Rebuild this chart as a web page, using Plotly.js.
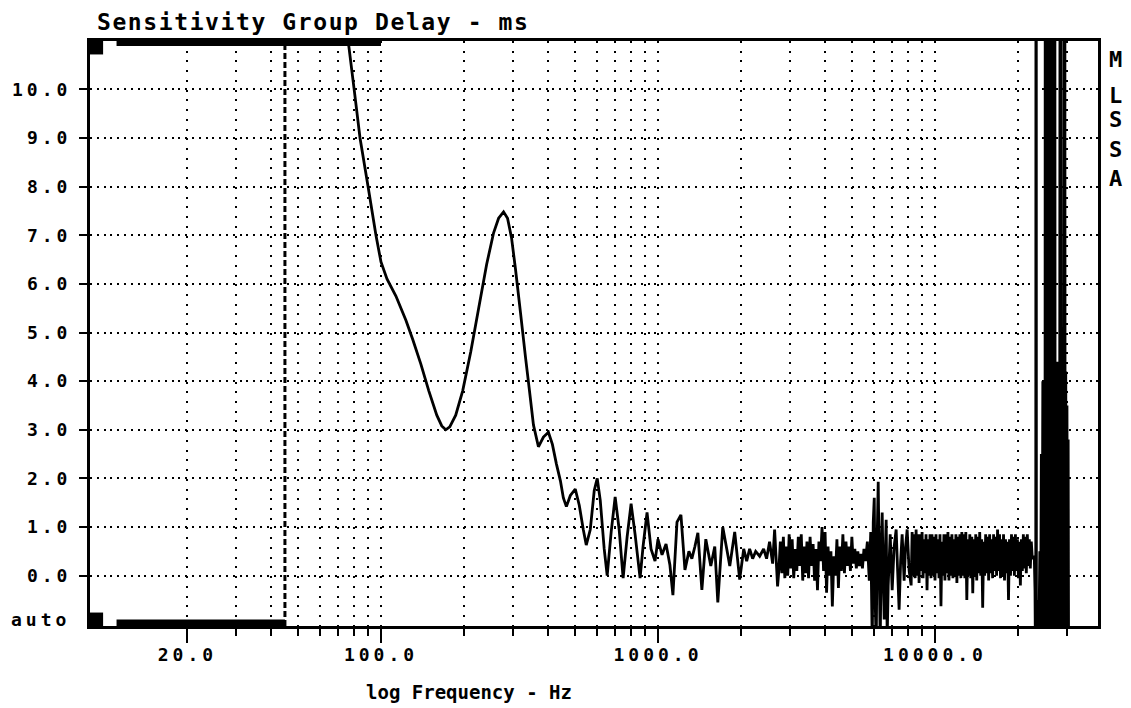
<!DOCTYPE html>
<html>
<head>
<meta charset="utf-8">
<script src="https://cdn.plot.ly/plotly-3.0.1.min.js"></script>
<style>
  html, body { margin: 0; padding: 0; background: #fff; }
  #chart { width: 1131px; height: 708px; }
  .ytick text, .xtick text { letter-spacing: 4px; }
  .gtitle { letter-spacing: 1.6px; }
  .annotation[data-index="0"] text { letter-spacing: 4px; }
</style>
</head>
<body>
<div id="chart"></div>
<script>
// Low-frequency part: steep fall, dip and the big group-delay peak (Hz, ms)
const smoothFreq = [72, 76.1, 80.0, 84.0, 89.8, 95.9, 100, 105.1, 113.2, 123.0, 130.3, 139.3, 148.8, 159.0,
  165.7, 171.3, 177.1, 186.1, 197.2, 210.8, 225.2, 240.6, 255.0, 265.8, 277.0, 286.3, 295.9, 305.9,
  319.0, 332.3, 343.6, 355.1];
const smoothDelay = [12.1, 11.0, 10.0, 9.0, 8.0, 7.0, 6.45, 6.1, 5.75, 5.25, 4.85, 4.35, 3.8, 3.3,
  3.08, 3.0, 3.06, 3.3, 3.8, 4.6, 5.5, 6.4, 7.05, 7.35, 7.48, 7.35, 6.95, 6.3,
  5.4, 4.5, 3.8, 3.1];

// Decaying ripples up to 1 kHz
const rippleFreq = [370.1, 385.8, 402.2, 415.7, 429.7, 444.3, 455.4, 466.9, 482.6, 502.8, 519.7, 537.3,
  550.8, 569.6, 588.6, 603.4, 618.8, 639.4, 655.5, 677.6, 700.4, 724.0, 748.3, 773.6, 799.6, 826.6,
  861.6, 883.2, 912.9, 943.7, 975.5];
const rippleDelay = [2.65, 2.85, 2.95, 2.7, 2.3, 1.95, 1.6, 1.42, 1.65, 1.78, 1.45, 0.95,
  0.63, 0.95, 1.75, 2.0, 1.55, 0.55, 0.0, 0.9, 1.62, 0.95, -0.05, 0.8, 1.48, 0.85,
  -0.05, 0.6, 1.3, 0.55, 0.3];

// 1 kHz .. 2.7 kHz
const noiseFreqA = [1000, 1034, 1069, 1104, 1132, 1171, 1210, 1251, 1293, 1325, 1359, 1393, 1440, 1488,
  1551, 1603, 1644, 1713, 1771, 1816, 1892, 1972, 2039, 2090, 2142, 2196, 2252, 2328, 2406, 2466,
  2528, 2593, 2636, 2702];
const noiseDelayA = [0.75, 0.43, 0.65, 0.22, -0.4, 1.1, 1.25, 0.12, 0.5, 0.35, 0.6, 0.88, -0.29, 0.75,
  0.2, 0.6, -0.55, 1.0, 0.55, 0.2, 0.9, -0.08, 0.55, 0.3, 0.55, 0.35, 0.5, 0.4, 0.55, 0.35,
  0.7, 0.25, 0.95, -0.22];

// 2.7 kHz .. 5.5 kHz
const noiseFreqB = [2730, 2765, 2800, 2835, 2870, 2905, 2940, 2975, 3010, 3050, 3090, 3130, 3170, 3210,
  3250, 3290, 3330, 3370, 3410, 3450, 3495, 3540, 3585, 3630, 3675, 3720, 3765, 3810, 3860, 3910,
  3960, 4010, 4060, 4110, 4160, 4210, 4260, 4315, 4370, 4425, 4480, 4535, 4590, 4650, 4710, 4770,
  4830, 4890, 4950, 5010, 5070, 5135, 5200, 5265, 5330, 5400, 5470, 5540];
const noiseDelayB = [0.1, 0.7, 0.05, 0.8, -0.05, 0.6, 0.0, 0.85, 0.15, 0.75, -0.05, 0.55, 0.1, 0.8,
  0.2, 0.85, -0.1, 0.6, 0.05, 0.7, -0.05, 0.8, 0.2, 0.65, -0.1, 0.55, -0.3, 0.7, 0.3, 1.0,
  0.1, 0.9, -0.35, 0.6, 0.0, 0.5, -0.63, 0.4, 0.0, 0.75, -0.25, 0.6, 0.1, 0.85, 0.05, 0.7,
  0.2, 0.6, 0.1, 0.8, 0.25, 0.55, 0.15, 0.5, 0.2, 0.45, 0.15, 0.55];

// Burst around 6-7 kHz
const burstFreq = [5610, 5700, 5790, 5860, 5935, 5985, 6035, 6085, 6135, 6185, 6237, 6290, 6341, 6394,
  6447, 6500, 6555, 6610, 6664, 6720, 6776, 6890, 7004, 7120, 7240, 7330, 7420, 7515, 7610, 7737,
  7830, 7934, 8066];
const burstDelay = [0.3, 0.7, -0.1, 0.9, -1.4, 1.1, 1.6, -0.6, -1.4, 0.8, 1.93, 0.2, -1.4, 0.5,
  1.3, 0.0, -0.9, 0.4, 1.15, -1.3, -0.2, 0.85, -0.3, 0.6, 0.95, 0.1, -0.7, 0.3, 0.85, -0.1,
  0.6, 0.95, 0.1];

// 8 kHz .. 22 kHz
const noiseFreqD = [8200, 8268, 8337, 8406, 8476, 8546, 8617, 8688, 8760, 8833,
  8906, 8980, 9054, 9129, 9205, 9281, 9358, 9436, 9514, 9593,
  9672, 9752, 9833, 9916, 10000, 10083, 10167, 10251, 10336, 10422,
  10508, 10595, 10683, 10771, 10860, 10950, 11040, 11135, 11230, 11322,
  11415, 11510, 11605, 11702, 11800, 11897, 11995, 12095, 12195, 12296,
  12397, 12500, 12604, 12708, 12813, 12919, 13026, 13134, 13243, 13353,
  13463, 13575, 13687, 13800, 13914, 14029, 14145, 14262, 14380, 14500,
  14620, 14741, 14863, 14986, 15110, 15235, 15361, 15489, 15617, 15747,
  15877, 16009, 16141, 16275, 16410, 16546, 16683, 16821, 16960, 17100,
  17240, 17385, 17530, 17675, 17820, 17970, 18120, 18270, 18420, 18575,
  18730, 18885, 19040, 19195, 19350, 19515, 19680, 19840, 20000, 20165,
  20330, 20500, 20670, 20840, 21010, 21185, 21360, 21540, 21720, 21900,
  22080, 22265, 22450];
const noiseDelayD = [-0.2, 0.9, 0.0, 0.85, -0.05, 0.95, 0.0, 0.85, -0.15, 0.85,
  0.1, 0.9, -0.05, 0.75, 0.05, 0.85, -0.3, 0.75, 0.0, 0.85,
  -0.05, 0.85, 0.0, 0.8, -0.1, 0.85, 0.05, 0.75, -0.05, 0.85,
  -0.63, 0.7, 0.0, 0.85, -0.1, 0.85, 0.05, 0.9, -0.1, 0.8,
  0.0, 0.85, -0.05, 0.75, 0.0, 0.85, -0.15, 0.8, 0.0, 0.85,
  -0.05, 0.9, 0.0, 0.85, -0.05, 0.9, -0.5, 0.75, 0.0, 0.85,
  -0.05, 0.8, -0.36, 0.75, 0.0, 0.85, -0.1, 0.8, 0.05, 0.9,
  0.0, 0.75, -0.66, 0.7, 0.0, 0.85, 0.05, 0.8, -0.1, 0.85,
  0.05, 0.75, -0.05, 0.85, 0.1, 0.8, 0.0, 0.95, 0.1, 0.85,
  -0.05, 0.75, 0.0, 0.85, -0.1, 0.75, 0.05, 0.7, -0.5, 0.75,
  0.0, 0.85, 0.1, 0.8, 0.0, 0.85, 0.1, 0.75, -0.05, 0.7,
  -0.2, 0.75, 0.1, 0.85, 0.15, 0.8, 0.05, 0.85, 0.2, 0.75,
  0.15, 0.7, 0.35];

// Band edge: wild swings above 22.8 kHz
const spikeFreq = [22820, 22960, 23100, 23180, 23260, 23500, 23700, 23900, 24050, 24200, 24350, 24500,
  24650, 24800, 24950, 25050, 25150, 25300, 25450, 25600, 25750, 25900, 26050, 26150, 26250, 26400,
  26550, 26700, 26850, 27000, 27150, 27300, 27450, 27600, 27750, 27900, 28050, 28200, 28380, 28550,
  28700, 28850, 29000, 29150, 29350, 29500, 29650, 29800, 29950, 30100, 30250, 30350];
const spikeDelay = [0.4, -0.3, -2.5, 30, -25, -0.5, -1.4, 0.5, -1.2, 2.5, -1.4, 4.0,
  -1.5, 3.0, -1.0, 30, -1.5, 4.8, -1.5, 30, -1.5, 4.5, -1.5, 30, -1.4, 4.2,
  30, -1.5, 4.6, 30, -1.4, 3.8, -1.5, 4.4, -1.4, 3.5, -1.5, 4.0, 30, -1.5,
  4.5, -1.4, 3.8, -1.5, 30, -1.5, 4.2, -1.4, 3.5, -1.5, 2.8, -1.5];

// Axis ticks
const majorFreqTicks = [20, 100, 1000, 10000];
const majorFreqLabels = ['20.0', '100.0', '1000.0', '10000.0'];
const minorFreqTicks = [30, 40, 50, 60, 70, 80, 90, 200, 300, 400, 500, 600, 700, 800, 900,
  2000, 3000, 4000, 5000, 6000, 7000, 8000, 9000, 20000, 30000];
const delayTicks = [0, 1, 2, 3, 4, 5, 6, 7, 8, 9, 10];
const delayLabels = ['0.0', '1.0', '2.0', '3.0', '4.0', '5.0', '6.0', '7.0', '8.0', '9.0', '10.0'];

// Measurement window markers (Hz)
const windowStartHz = 45;
const markerLowHz = 11.1;
const markerHighHz = 100;
const sideLabel = 'MLSSA';

const freq = [].concat(smoothFreq, rippleFreq, noiseFreqA, noiseFreqB, burstFreq, noiseFreqD, spikeFreq);
const delay = [].concat(smoothDelay, rippleDelay, noiseDelayA, noiseDelayB, burstDelay, noiseDelayD, spikeDelay);

const monoBold = (size) => ({family: '"DejaVu Sans Mono", monospace', size: size, color: '#000', weight: 'bold'});

const trace = {
  x: freq, y: delay, type: 'scatter', mode: 'lines',
  line: {color: '#000', width: 2.8, simplify: false},
  hoverinfo: 'skip'
};

const sideLetterY = [0.9692, 0.906, 0.865, 0.8137, 0.7658];
const annotations = [
  {text: 'auto', xref: 'paper', yref: 'y', x: -0.026, y: -0.905, xanchor: 'right', yanchor: 'middle',
   showarrow: false, font: monoBold(18)},
  {text: 'log Frequency - Hz', xref: 'paper', yref: 'paper', x: 0.376, y: -0.1128,
   xanchor: 'center', yanchor: 'middle', showarrow: false, font: monoBold(19)}
];
sideLabel.split('').forEach((ch, i) => {
  annotations.push({text: ch, xref: 'paper', yref: 'paper', x: 1.0169, y: sideLetterY[i],
    xanchor: 'center', yanchor: 'middle', showarrow: false, font: monoBold(22)});
});

const shapes = [
  {type: 'line', xref: 'x', yref: 'paper', x0: windowStartHz, x1: windowStartHz, y0: 0, y1: 1,
   line: {color: '#000', width: 3, dash: '6px,3px'}},
  {type: 'rect', xref: 'x', yref: 'paper', x0: markerLowHz, x1: markerHighHz, y0: 0.9915, y1: 1.004,
   fillcolor: '#000', line: {width: 0}},
  {type: 'rect', xref: 'x', yref: 'paper', x0: markerLowHz, x1: windowStartHz, y0: -0.003, y1: 0.011,
   fillcolor: '#000', line: {width: 0}},
  {type: 'rect', xref: 'paper', yref: 'paper', x0: 0, x1: 0.013, y0: 0.977, y1: 1.002,
   fillcolor: '#000', line: {width: 0}},
  {type: 'rect', xref: 'paper', yref: 'paper', x0: 0, x1: 0.013, y0: -0.002, y1: 0.023,
   fillcolor: '#000', line: {width: 0}}
];

const layout = {
  width: 1131, height: 708,
  margin: {l: 90, r: 33, t: 41, b: 82, pad: 0},
  paper_bgcolor: '#fff', plot_bgcolor: '#fff',
  showlegend: false,
  title: {text: 'Sensitivity Group Delay - ms', xref: 'paper', x: 0.0069, xanchor: 'left',
    yref: 'container', y: 0.969, yanchor: 'middle', font: monoBold(23)},
  xaxis: {
    type: 'log', range: [0.9495, 4.5884], autorange: false, fixedrange: true,
    tickmode: 'array', tickvals: majorFreqTicks, ticktext: majorFreqLabels,
    ticks: 'outside', ticklen: 14, tickwidth: 2, tickcolor: '#000', ticklabelstandoff: -4,
    showgrid: true, gridcolor: '#000', gridwidth: 2, griddash: '2px,7.73px',
    minor: {tickmode: 'array', tickvals: minorFreqTicks, ticks: 'outside', ticklen: 7, tickwidth: 2,
      tickcolor: '#000', showgrid: true, gridcolor: '#000', gridwidth: 2, griddash: '2px,7.73px'},
    showline: true, linecolor: '#000', linewidth: 3, mirror: true, zeroline: false,
    tickfont: monoBold(18)
  },
  yaxis: {
    range: [-1.034, 10.993], autorange: false, fixedrange: true,
    tickmode: 'array', tickvals: delayTicks, ticktext: delayLabels,
    ticks: 'outside', ticklen: 8, tickwidth: 2, tickcolor: '#000', ticklabelstandoff: 4,
    showgrid: true, gridcolor: '#000', gridwidth: 2, griddash: '2px,4.8px',
    showline: true, linecolor: '#000', linewidth: 3, mirror: true, zeroline: false,
    tickfont: monoBold(18)
  },
  shapes: shapes,
  annotations: annotations
};

Plotly.newPlot('chart', [trace], layout, {staticPlot: true, displayModeBar: false});
</script>
</body>
</html>
